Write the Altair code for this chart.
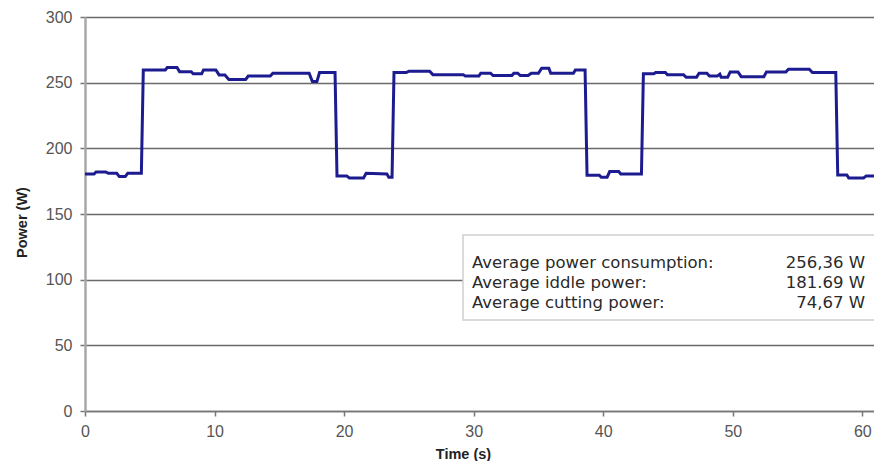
import altair as alt
import pandas as pd

# Measured power trace (time in s, power in W)
times = [0, 0.7, 0.85, 1.6, 1.8, 2.45, 2.65, 3.1, 3.3, 4.35, 4.5, 6.2, 6.35, 7.1, 7.3, 8.2,
         8.35, 9.0, 9.15, 10.1, 10.35, 10.8, 11.1, 12.4, 12.6, 14.3, 14.5, 17.3, 17.55, 17.9,
         18.1, 19.3, 19.45, 20.2, 20.4, 21.5, 21.7, 23.3, 23.45, 23.7, 23.85, 24.8, 25.0, 26.6,
         26.85, 29.2, 29.35, 30.4, 30.55, 31.3, 31.5, 32.95, 33.1, 33.4, 33.6, 34.2, 34.45, 35.0,
         35.25, 35.8, 35.95, 37.7, 37.85, 38.6, 38.75, 39.7, 39.85, 40.3, 40.5, 41.2, 41.35, 42.95,
         43.1, 43.9, 44.05, 44.8, 44.95, 46.2, 46.4, 47.2, 47.4, 48.0, 48.2, 48.8, 49.0, 49.1,
         49.6, 49.8, 50.4, 50.65, 52.4, 52.6, 54.1, 54.3, 55.9, 56.15, 57.95, 58.1, 58.8, 58.95,
         60.1, 60.3, 61.1, 61.3, 61.6]
powers = [180.5, 180.5, 182, 182, 181, 181, 178.5, 178.5, 181, 181, 259.7, 259.7, 261.5, 261.5, 258.4, 258.4,
          256.7, 256.7, 259.7, 259.7, 255.9, 255.9, 252.5, 252.5, 255, 255, 257.2, 257.2, 250.8, 250.8,
          257.7, 257.7, 179, 179, 177.5, 177.5, 181, 180.5, 178, 178, 257.7, 257.7, 258.7, 258.7,
          256.1, 256.1, 255, 255, 257.2, 257.2, 255.4, 255.4, 257.2, 257.2, 255.4, 255.4, 257.2, 257.2,
          261, 261, 257.2, 257.2, 259.7, 259.7, 179.5, 179.5, 178, 178, 182.3, 182.3, 180.5, 180.5,
          256.7, 256.7, 257.7, 257.7, 256.1, 256.1, 254.1, 254.1, 257.2, 257.2, 255, 255, 256.5, 254.1,
          254.1, 258.2, 258.2, 254.6, 254.6, 258.2, 258.2, 260.2, 260.2, 257.7, 257.7, 179.7, 179.7, 177.5,
          177.5, 179, 179, 181, 181]

x_ticks = [0, 10, 20, 30, 40, 50, 60]
y_ticks = [0, 50, 100, 150, 200, 250, 300]

stat_labels = ["Average power consumption:", "Average iddle power:", "Average cutting power:"]
stat_values = ["256,36 W", "181.69 W", "74,67 W"]

df = pd.DataFrame({"t": times, "p": powers})
W, H = 789, 394
XMAX = 60.9

line = alt.Chart(df).mark_line(color="#1c1c90", strokeWidth=3, clip=True).encode(
    x=alt.X("t:Q", scale=alt.Scale(domain=[0, XMAX], nice=False, zero=False),
            axis=alt.Axis(values=x_ticks, title="Time (s)", grid=False,
                          domainColor="#777777", domainWidth=1.5,
                          tickColor="#777777", tickSize=5, tickWidth=1.5,
                          labelFont="Liberation Sans", labelFontSize=16, labelColor="#555555",
                          labelPadding=7, labelFlush=False,
                          titleFont="Liberation Sans", titleFontSize=14.5, titleFontWeight="bold",
                          titleColor="#222222", titleX=378, titleY=43, titleBaseline="middle")),
    y=alt.Y("p:Q", scale=alt.Scale(domain=[0, 300], nice=False),
            axis=alt.Axis(values=y_ticks, title="Power (W)", grid=True,
                          gridColor="#6a6a6a", gridWidth=1.3,
                          domainColor="#a8a8a8", domainWidth=2.5,
                          tickColor="#777777", tickSize=5, tickWidth=1.5,
                          labelFont="Liberation Sans", labelFontSize=16, labelColor="#555555",
                          labelPadding=8,
                          titleFont="Liberation Sans", titleFontSize=14.5, titleFontWeight="bold",
                          titleColor="#222222", titleX=-63, titleY=205, titleAngle=-90,
                          titleAlign="center", titleBaseline="middle")),
)

box_df = pd.DataFrame({"k": [0]})
box = alt.Chart(box_df).mark_rect(fill="white", stroke="#d0d0d0", strokeWidth=1.5).encode(
    x=alt.value(463 - 85), x2=alt.value(W + 5), y=alt.value(235 - 17), y2=alt.value(320 - 17)
)

stats = pd.DataFrame({"label": stat_labels, "value": stat_values, "row": [0, 1, 2]})
row_y = alt.Y("row:Q", scale=alt.Scale(domain=[0, 2], range=[263 - 17, 303 - 17]), axis=None)
lab = alt.Chart(stats).mark_text(align="left", baseline="middle", font="DejaVu Sans", fontSize=16.5,
                                 color="#2a2a2a").encode(
    x=alt.value(472 - 85), y=row_y, text="label:N",
)
val = alt.Chart(stats).mark_text(align="right", baseline="middle", font="DejaVu Sans", fontSize=16.5,
                                 color="#2a2a2a").encode(
    x=alt.value(865 - 85), y=row_y, text="value:N",
)

chart = alt.layer(line, box, lab, val).resolve_scale(y="independent").properties(
    width=W, height=H, autosize="none",
    padding={"left": 77, "top": 9, "right": 0, "bottom": 50},
).configure_view(stroke=None).configure(background="white")

chart.save("out.html", embed_options={"renderer": "svg", "actions": False})
